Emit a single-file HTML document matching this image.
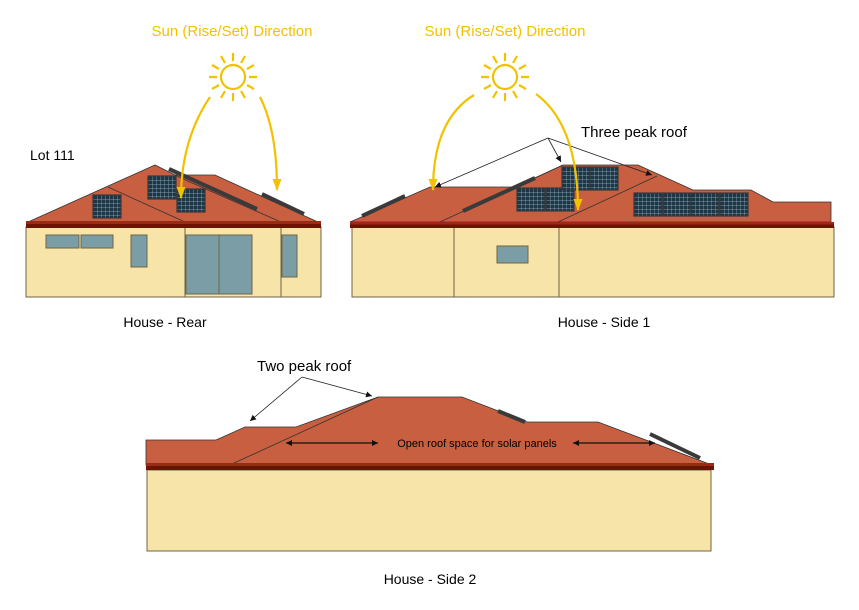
<!DOCTYPE html>
<html><head><meta charset="utf-8"><style>body{margin:0;background:#fff}svg{display:block}text{font-family:"Liberation Sans",sans-serif}</style></head><body>
<svg width="859" height="610" viewBox="0 0 859 610" xmlns="http://www.w3.org/2000/svg">
<defs>
<pattern id="grid" width="4" height="4" patternUnits="userSpaceOnUse"><rect width="4" height="4" fill="#1d3646"/><path d="M0 0H4M0 0V4" stroke="#9db6c6" stroke-width="0.7"/></pattern>
<marker id="ya" markerWidth="12" markerHeight="9" refX="11" refY="4.5" orient="auto" markerUnits="userSpaceOnUse"><path d="M0 0L12 4.5L0 9Z" fill="#f2c200"/></marker>
<marker id="ka" markerWidth="6" markerHeight="6" refX="6" refY="3" orient="auto" markerUnits="userSpaceOnUse"><path d="M0 0L6 3L0 6Z" fill="#111"/></marker>
<marker id="ks" markerWidth="6" markerHeight="6" refX="0" refY="3" orient="auto" markerUnits="userSpaceOnUse"><path d="M6 0L0 3L6 6Z" fill="#111"/></marker>
<g id="sun" stroke="#f2c200" stroke-width="2.2" fill="none"><circle r="12"/>
<path d="M0-16V-24M0 16V24M-16 0H-24M16 0H24M8-14L12-21M-8-14L-12-21M8 14L12 21M-8 14L-12 21M14-8L21-12M-14-8L-21-12M14 8L21 12M-14 8L-21 12"/></g>
<g id="pan"><rect width="28" height="23" fill="url(#grid)" stroke="#3a3a3a" stroke-width="1.2"/></g>
</defs>

<!-- REAR -->
<rect x="26" y="227" width="295" height="70" fill="#f7e4a8" stroke="#6f6548" stroke-width="1"/>
<path d="M28 222L155 165L175 175L215 175L318 222Z" fill="#c95f41" stroke="#333" stroke-width="0.8"/>
<path d="M108 187L185 222M175 175L190 182L281 222" stroke="#333" stroke-width="0.8" fill="none"/>
<rect x="26" y="221" width="295" height="7" fill="#6b1406"/><rect x="26" y="221" width="295" height="3" fill="#9b2a12"/>
<use href="#pan" x="148" y="176"/><use href="#pan" x="93" y="195"/><use href="#pan" x="177" y="189"/>
<path d="M169 169L257 209M262 194L304 214" stroke="#3a3a3a" stroke-width="4"/>
<path d="M185 228V297M281 228V297" stroke="#6f6548"/>
<g fill="#7b9ea6" stroke="#6f6548" stroke-width="1"><rect x="46" y="235" width="33" height="13"/><rect x="81" y="235" width="32" height="13"/><rect x="131" y="235" width="16" height="32"/><rect x="186" y="235" width="33" height="59"/><rect x="219" y="235" width="33" height="59"/><rect x="282" y="235" width="15" height="42"/></g>
<text x="30" y="160" font-size="14">Lot 111</text>
<text x="165" y="327" font-size="14" text-anchor="middle">House - Rear</text>

<!-- SIDE 1 -->
<rect x="352" y="227" width="482" height="70" fill="#f7e4a8" stroke="#6f6548" stroke-width="1"/>
<path d="M350 222L430 187L515 187L563 165L638 165L693 190L751 190L773 202L831 202L831 222Z" fill="#c95f41" stroke="#333" stroke-width="0.8"/>
<path d="M440 222L563 165M558 222L657 176" stroke="#333" stroke-width="0.8"/>
<rect x="350" y="222" width="484" height="6" fill="#6b1406"/><rect x="350" y="222" width="484" height="2.5" fill="#9b2a12"/>
<path d="M454 228V297M559 228V297" stroke="#6f6548"/>
<use href="#pan" x="517" y="188"/><use href="#pan" x="546" y="188"/>
<use href="#pan" x="562" y="167"/><use href="#pan" x="590" y="167"/>
<use href="#pan" x="634" y="193"/><use href="#pan" x="663" y="193"/><use href="#pan" x="691" y="193"/><use href="#pan" x="720" y="193"/>
<path d="M362 216L405 196M463 211L535 178" stroke="#3a3a3a" stroke-width="4"/>
<rect x="497" y="246" width="31" height="17" fill="#7b9ea6" stroke="#6f6548"/>
<g stroke="#222" stroke-width="0.8" fill="none"><path d="M548 138L435 187" marker-end="url(#ka)"/><path d="M548 138L561 162" marker-end="url(#ka)"/><path d="M548 138L652 175" marker-end="url(#ka)"/></g>
<text x="581" y="137" font-size="15">Three peak roof</text>
<text x="604" y="327" font-size="14" text-anchor="middle">House - Side 1</text>

<!-- SIDE 2 -->
<rect x="147" y="470" width="564" height="81" fill="#f7e4a8" stroke="#6f6548"/>
<path d="M146 440L216 440L245 427L296 427L378 397L462 397L527 422L598 422L712 465L146 465Z" fill="#c95f41" stroke="#333" stroke-width="0.8"/>
<path d="M232 464L378 397" stroke="#333" stroke-width="0.8"/>
<rect x="146" y="463" width="568" height="7" fill="#6b1406"/><rect x="146" y="463" width="568" height="3" fill="#9b2a12"/>
<path d="M498 411L525 422M650 434L700 458" stroke="#3a3a3a" stroke-width="4"/>
<g stroke="#111" stroke-width="1.2"><path d="M286 443H378" marker-start="url(#ks)" marker-end="url(#ka)"/><path d="M573 443H655" marker-start="url(#ks)" marker-end="url(#ka)"/></g>
<text x="477" y="447" font-size="11" text-anchor="middle">Open roof space for solar panels</text>
<g stroke="#222" stroke-width="0.8" fill="none"><path d="M302 377L250 421" marker-end="url(#ka)"/><path d="M302 377L372 396" marker-end="url(#ka)"/></g>
<text x="257" y="371" font-size="15">Two peak roof</text>
<text x="430" y="584" font-size="14" text-anchor="middle">House - Side 2</text>

<!-- SUNS -->
<g fill="#f2c200" font-size="15" text-anchor="middle"><text x="232" y="36">Sun (Rise/Set) Direction</text><text x="505" y="36">Sun (Rise/Set) Direction</text></g>
<use href="#sun" x="233" y="77"/><use href="#sun" x="505" y="77"/>
<g stroke="#f2c200" stroke-width="2.2" fill="none">
<path d="M210 97Q181 140 181 198" marker-end="url(#ya)"/>
<path d="M260 97Q277 130 277 190" marker-end="url(#ya)"/>
<path d="M474 95Q433 120 433 190" marker-end="url(#ya)"/>
<path d="M536 94Q578 125 578 210" marker-end="url(#ya)"/>
</g>
</svg>
</body></html>
